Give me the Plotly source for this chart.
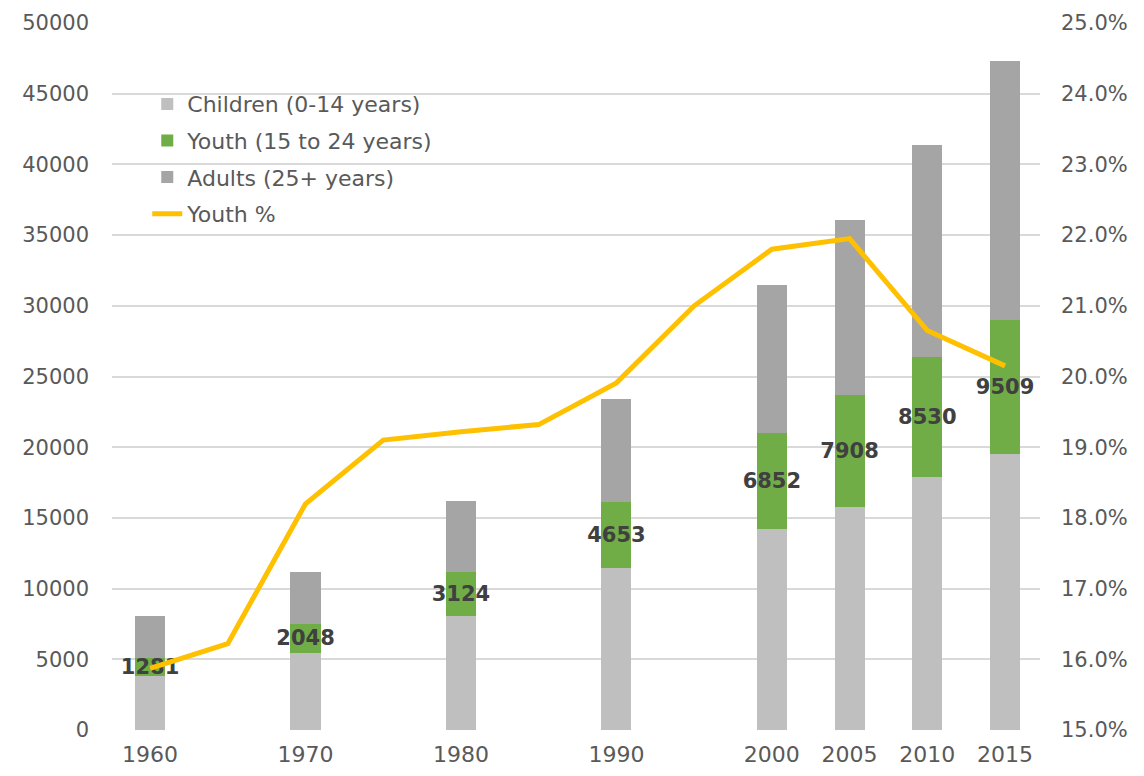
import plotly.graph_objects as go

bar_years = [1960, 1970, 1980, 1990, 2000, 2005, 2010, 2015]
children = [3790, 5450, 8050, 11450, 14180, 15800, 17870, 19500]
youth = [1281, 2048, 3124, 4653, 6852, 7908, 8530, 9509]
adults = [2980, 3680, 5020, 7310, 10450, 12350, 15000, 18280]

line_years = [1960, 1965, 1970, 1975, 1980, 1985, 1990, 1995, 2000, 2005, 2010, 2015]
youth_pct = [15.87, 16.22, 18.2, 19.1, 19.22, 19.32, 19.91, 21.0, 21.8, 21.95, 20.65, 20.15]

left_ticks = list(range(0, 50001, 5000))
left_text = [str(v) for v in left_ticks]
right_ticks = [15 + i for i in range(11)]
right_text = ["%.1f%%" % v for v in right_ticks]

gray_txt = "#595959"
font_main = "DejaVu Sans"
bw = 1.94

fig = go.Figure()
fig.add_trace(go.Bar(x=bar_years, y=children, name="Children (0-14 years)", legendgroup="a",
                     marker=dict(color="#bfbfbf", line=dict(width=0)), width=bw))
fig.add_trace(go.Bar(x=bar_years, y=youth, name="Youth (15 to 24 years)", legendgroup="b",
                     marker=dict(color="#70ad47", line=dict(width=0)), width=bw,
                     text=[str(v) for v in youth], textposition="inside",
                     insidetextanchor="middle", textangle=0, constraintext="none",
                     textfont=dict(family=font_main, size=21, color="#404040", weight="bold")))
fig.add_trace(go.Bar(x=bar_years, y=adults, name="Adults (25+ years)", legendgroup="c",
                     marker=dict(color="#a5a5a5", line=dict(width=0)), width=bw))
fig.add_trace(go.Scatter(x=line_years, y=youth_pct, name="Youth %", mode="lines", legendgroup="d",
                         line=dict(color="#ffc000", width=5), yaxis="y2"))

# white background behind the legend (hides gridlines, stays under the traces)
fig.add_shape(type="rect", xref="paper", yref="paper", x0=0.039, x1=0.434, y0=0.707, y1=0.891,
              fillcolor="white", line=dict(width=0), layer="between")

fig.update_layout(
    barmode="stack",
    width=1128, height=760,
    margin=dict(l=104, r=96, t=15, b=38),
    plot_bgcolor="white", paper_bgcolor="white",
    font=dict(family=font_main, color=gray_txt),
    showlegend=True,
    legend=dict(x=0.038, y=0.915, xanchor="left", yanchor="top",
                bgcolor="rgba(0,0,0,0)", font=dict(size=22, color=gray_txt),
                traceorder="grouped", tracegroupgap=5, itemwidth=30),
    xaxis=dict(range=[1957.55, 2017.25], tickvals=bar_years,
               ticktext=[str(y) for y in bar_years], showgrid=False, zeroline=False,
               showline=False, ticks="", tickfont=dict(size=22, color=gray_txt),
               ticklabelstandoff=9, automargin=False),
    yaxis=dict(range=[0, 50000], tickvals=left_ticks, ticktext=left_text, showgrid=True,
               gridcolor="#d9d9d9", gridwidth=1.5, zeroline=False, ticks="",
               tickfont=dict(size=21, color=gray_txt), ticklabelstandoff=22,
               showline=False, automargin=False),
    yaxis2=dict(range=[15, 25], tickvals=right_ticks, ticktext=right_text,
                overlaying="y", side="right",
                showgrid=False, zeroline=False, ticks="",
                tickfont=dict(size=21, color=gray_txt),
                ticklabelstandoff=20, automargin=False),
)

fig.write_html("out.html")
